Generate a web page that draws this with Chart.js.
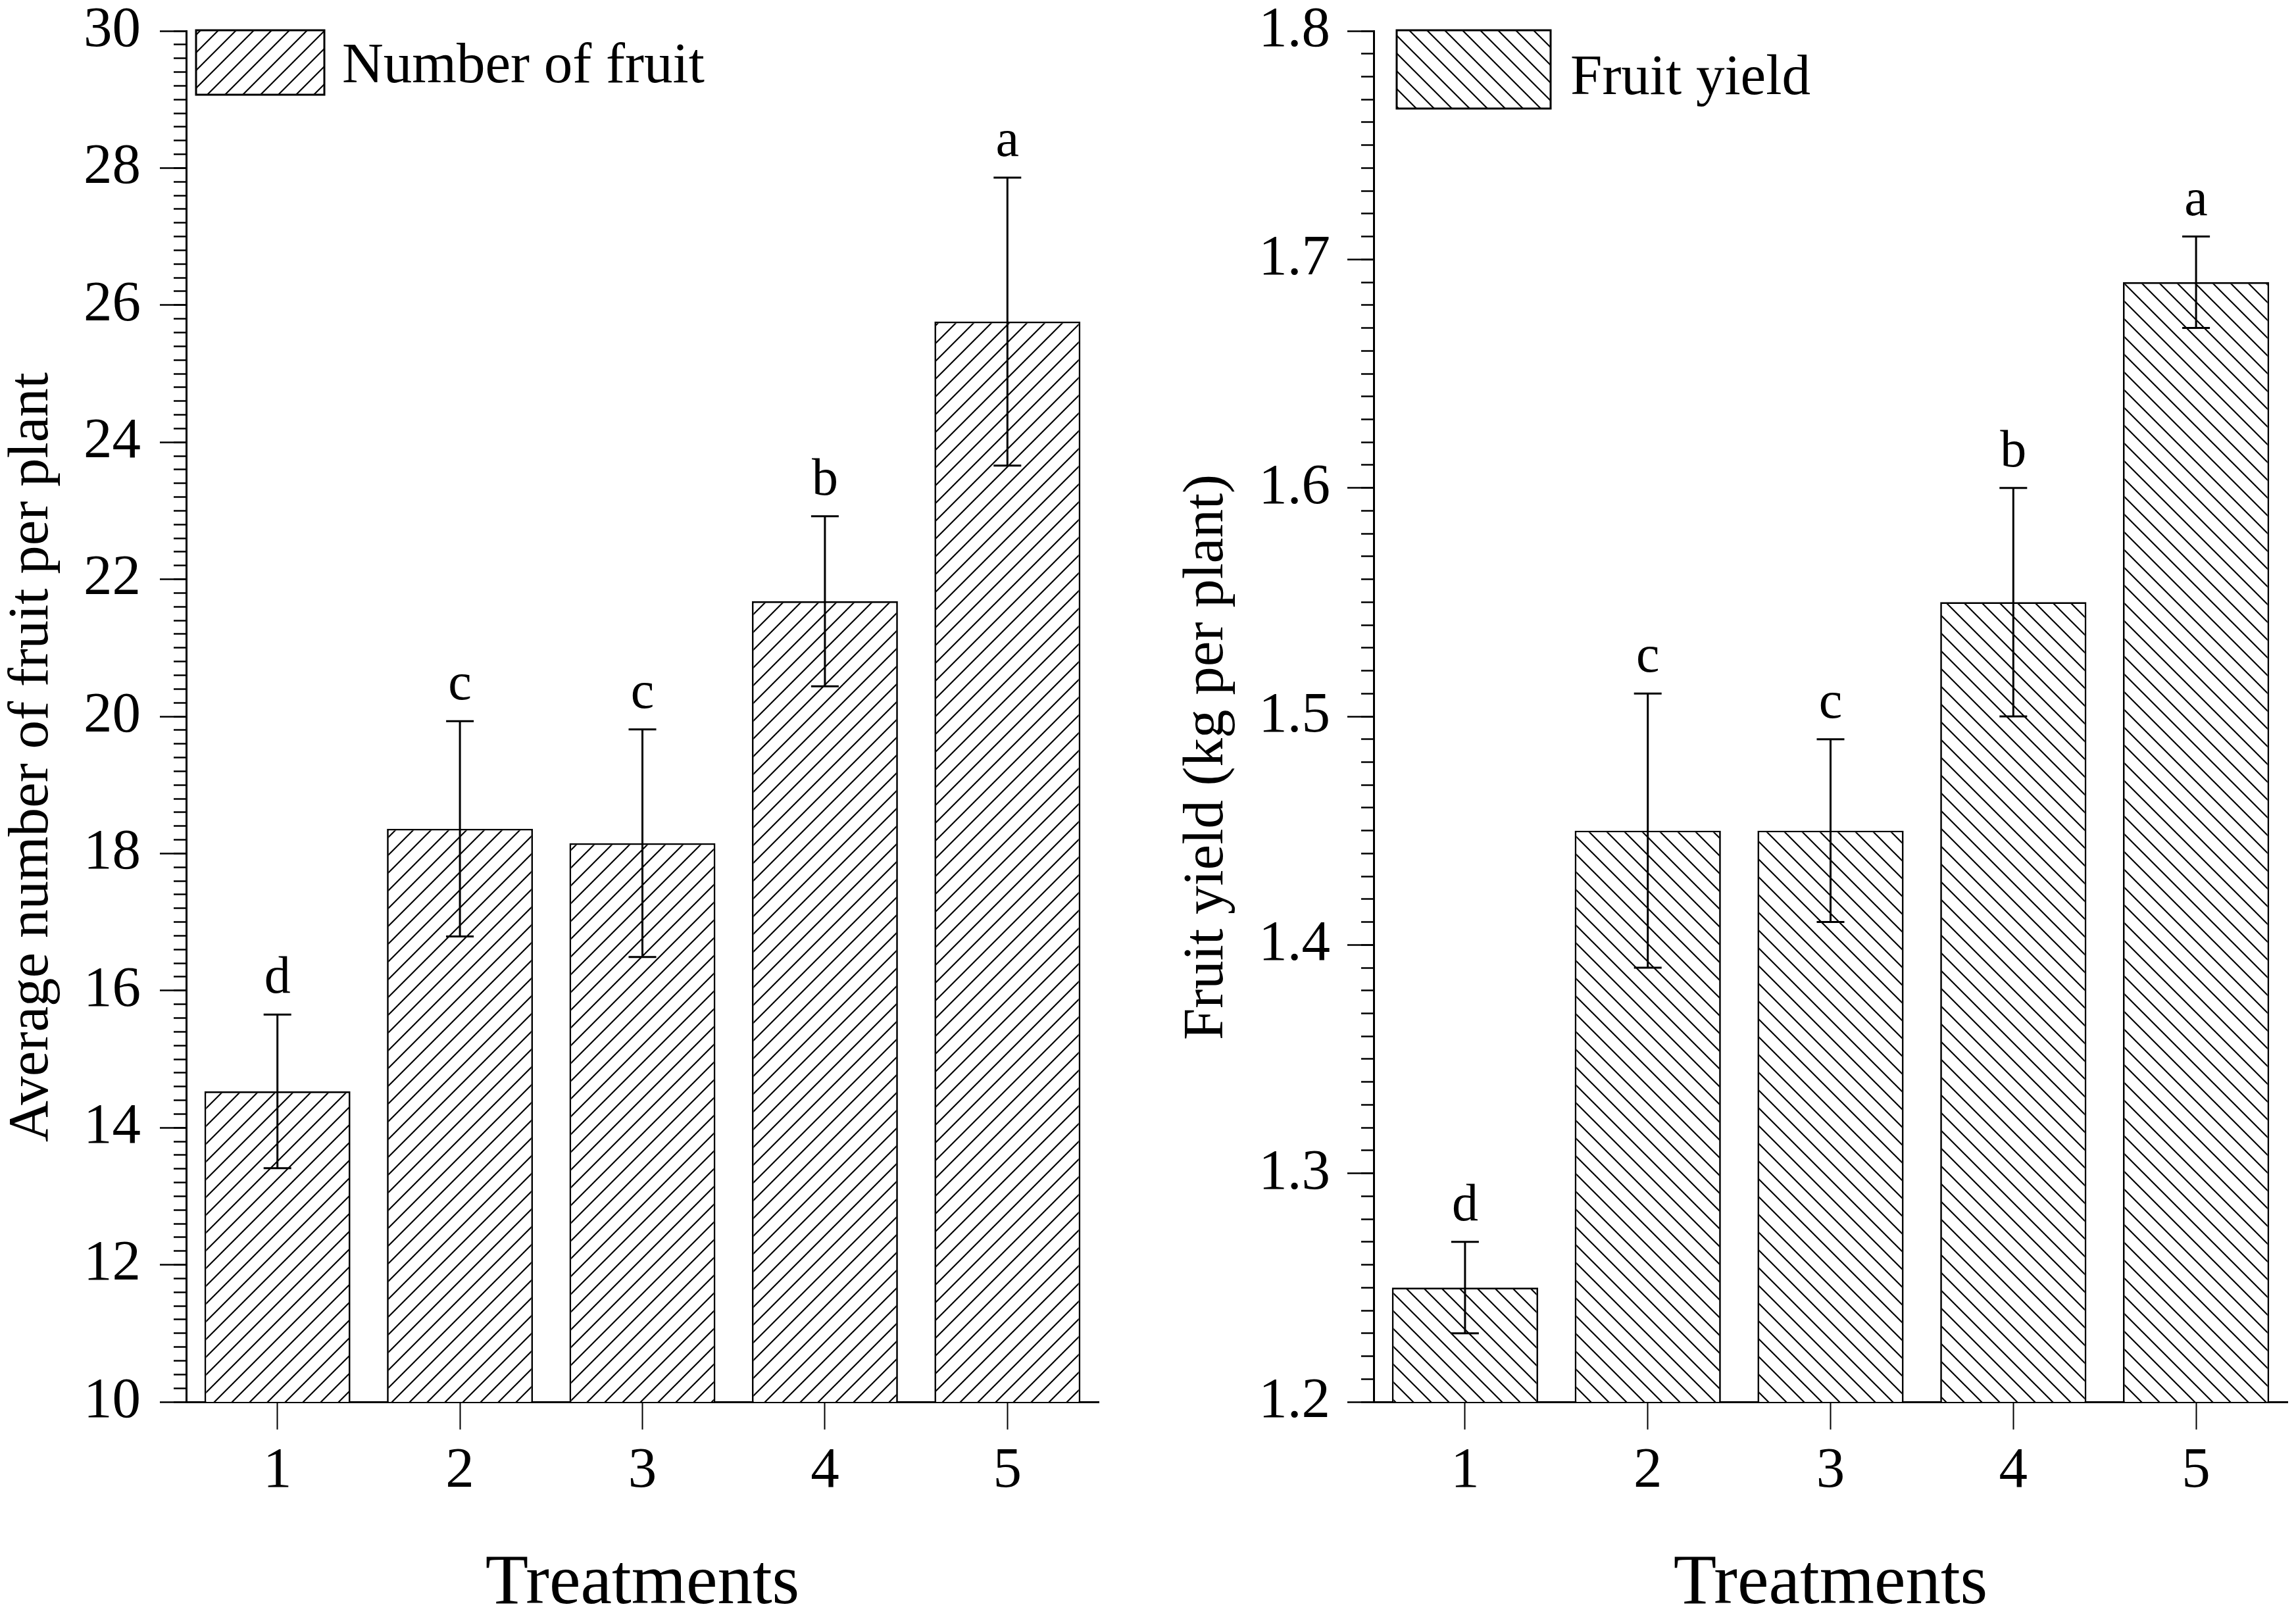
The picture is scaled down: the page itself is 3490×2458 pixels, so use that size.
<!DOCTYPE html>
<html>
<head>
<meta charset="utf-8">
<script src="https://cdn.jsdelivr.net/npm/chart.js@4.4.1/dist/chart.umd.min.js"></script>
<style>
  html, body { margin: 0; padding: 0; background: #fff; }
  #wrap { position: relative; width: 3490px; height: 2458px; }
  canvas { position: absolute; top: 0; }
</style>
</head>
<body>
<div id="wrap">
  <canvas id="fruitChart" width="1745" height="2458" style="left:0px"></canvas>
  <canvas id="yieldChart" width="1745" height="2458" style="left:1745px"></canvas>
</div>
<script>
// data
const treatments = ['1', '2', '3', '4', '5'];

const fruitNumber = [14.53, 18.36, 18.15, 21.68, 25.76];
const fruitNumberErr = [1.12, 1.57, 1.66, 1.24, 2.10];
const fruitLetters = ['d', 'c', 'c', 'b', 'a'];

const fruitYield = [1.25, 1.45, 1.45, 1.55, 1.69];
const fruitYieldErr = [0.02, 0.06, 0.04, 0.05, 0.02];
const yieldLetters = ['d', 'c', 'c', 'b', 'a'];

const FONT = 'Liberation Serif';
Chart.defaults.font.family = FONT;
Chart.defaults.color = '#000';

// diagonal hatch fill, '/' or '\'
function hatch(dir) {
    const s = 27;
    const c = document.createElement('canvas');
    c.width = s; c.height = s;
    const g = c.getContext('2d');
    g.fillStyle = '#fff';
    g.fillRect(0, 0, s, s);
    g.strokeStyle = '#000';
    g.lineWidth = 2.2;
    g.beginPath();
    if (dir === '/') {
        g.moveTo(-2, s + 2); g.lineTo(s + 2, -2);
        g.moveTo(-3, 3); g.lineTo(3, -3);
        g.moveTo(s - 3, s + 3); g.lineTo(s + 3, s - 3);
    } else {
        g.moveTo(-2, -2); g.lineTo(s + 2, s + 2);
        g.moveTo(s - 3, -3); g.lineTo(s + 3, 3);
        g.moveTo(-3, s - 3); g.lineTo(3, s + 3);
    }
    g.stroke();
    return g.createPattern(c, 'repeat');
}

// error bars + significance letters
const errorBars = {
    id: 'errorBars',
    afterDatasetsDraw(chart, args, opts) {
        const { ctx, scales: { x, y } } = chart;
        const values = chart.data.datasets[0].data;
        ctx.save();
        ctx.strokeStyle = '#000';
        ctx.lineWidth = 3;
        ctx.fillStyle = '#000';
        ctx.font = '80px "' + FONT + '"';
        ctx.textAlign = 'center';
        ctx.textBaseline = 'alphabetic';
        values.forEach((v, i) => {
            const cx = x.getPixelForValue(i);
            const top = y.getPixelForValue(v + opts.errors[i]);
            const bot = y.getPixelForValue(v - opts.errors[i]);
            ctx.beginPath();
            ctx.moveTo(cx, top); ctx.lineTo(cx, bot);
            ctx.moveTo(cx - 21, top); ctx.lineTo(cx + 21, top);
            ctx.moveTo(cx - 21, bot); ctx.lineTo(cx + 21, bot);
            ctx.stroke();
            ctx.fillText(opts.letters[i], cx, top - 33);
        });
        ctx.restore();
    }
};

// legend box sitting inside the plot, top-left
const boxLegend = {
    id: 'boxLegend',
    afterDraw(chart, args, opts) {
        const { ctx, chartArea } = chart;
        const ds = chart.data.datasets[0];
        const x0 = chartArea.left + opts.dx;
        ctx.save();
        ctx.fillStyle = ds.backgroundColor;
        ctx.fillRect(x0, opts.y, opts.w, opts.h);
        ctx.strokeStyle = '#000';
        ctx.lineWidth = 3;
        ctx.strokeRect(x0, opts.y, opts.w, opts.h);
        ctx.fillStyle = '#000';
        ctx.font = '87px "' + FONT + '"';
        ctx.textAlign = 'left';
        ctx.textBaseline = 'alphabetic';
        ctx.fillText(ds.label, x0 + opts.w + opts.gap, opts.baseline);
        ctx.restore();
    }
};

// rotated y title
const sideTitle = {
    id: 'sideTitle',
    afterDraw(chart, args, opts) {
        const ctx = chart.ctx;
        ctx.save();
        ctx.translate(opts.x, opts.y);
        ctx.rotate(-Math.PI / 2);
        ctx.fillStyle = '#000';
        ctx.font = '87px "' + FONT + '"';
        ctx.textAlign = 'center';
        ctx.textBaseline = 'alphabetic';
        ctx.fillText(opts.text, 0, 0);
        ctx.restore();
    }
};

const tickText = v => String(Math.round(v * 100) / 100);

function makeChart(id, cfg) {
    return new Chart(document.getElementById(id), {
        type: 'bar',
        data: {
            labels: treatments,
            datasets: [{
                label: cfg.label,
                data: cfg.values,
                backgroundColor: cfg.fill,
                borderColor: '#000',
                borderWidth: 2.7,
                borderSkipped: false,
                barPercentage: 0.8,
                categoryPercentage: 1
            }]
        },
        options: {
            responsive: false,
            animation: false,
            devicePixelRatio: 1,
            events: [],
            layout: { padding: { top: 47, right: cfg.padRight, left: 0, bottom: 0 } },
            plugins: {
                legend: { display: false },
                tooltip: { enabled: false },
                errorBars: { errors: cfg.errors, letters: cfg.letters },
                boxLegend: cfg.legend,
                sideTitle: { text: cfg.yTitle, x: cfg.yTitleX, y: 1151 }
            },
            scales: {
                x: {
                    type: 'category',
                    offset: true,
                    grid: { drawOnChartArea: false, offset: false, tickLength: 42, tickWidth: 2, tickColor: '#000' },
                    border: { color: '#000', width: 3 },
                    ticks: { color: '#000', font: { size: 87 }, padding: 12, maxRotation: 0 },
                    title: { display: true, text: 'Treatments', color: '#000', font: { size: 107, lineHeight: 0.92 }, padding: 0 },
                    afterFit: s => { s.height = 2458 - 2131; s.paddingLeft = 0; s.paddingRight = 0; }
                },
                y: {
                    min: cfg.min, max: cfg.max,
                    position: 'left',
                    weight: 1,
                    grid: { drawOnChartArea: false, tickLength: 40, tickWidth: 2.7, tickColor: '#000' },
                    border: { color: '#000', width: 3 },
                    ticks: { stepSize: cfg.major, color: '#000', font: { size: 87 }, padding: cfg.labelPad, callback: tickText },
                    afterFit: s => { s.width = cfg.axisLeft; s.paddingTop = 0; s.paddingBottom = 0; }
                },
                // minor ticks: second axis glued to the plot edge
                yMinor: {
                    type: 'linear',
                    display: true,
                    weight: 0,
                    min: cfg.min, max: cfg.max,
                    position: 'left',
                    grid: { drawOnChartArea: false, tickLength: 19, tickWidth: 2.5, tickColor: '#000' },
                    border: { display: false },
                    ticks: { stepSize: cfg.minor, display: false },
                    afterFit: s => { s.width = 0; s.paddingTop = 0; s.paddingBottom = 0; }
                }
            }
        },
        plugins: [errorBars, boxLegend, sideTitle]
    });
}

makeChart('fruitChart', {
    label: 'Number of fruit',
    values: fruitNumber,
    errors: fruitNumberErr,
    letters: fruitLetters,
    fill: hatch('/'),
    min: 10, max: 30, major: 2, minor: 0.2,
    axisLeft: 283, padRight: 75, labelPad: 29,
    yTitle: 'Average number of fruit per plant', yTitleX: 72,
    legend: { dx: 15, y: 46, w: 195, h: 98, gap: 27, baseline: 125 }
});

makeChart('yieldChart', {
    label: 'Fruit yield',
    values: fruitYield,
    errors: fruitYieldErr,
    letters: yieldLetters,
    fill: hatch('\\'),
    min: 1.2, max: 1.8, major: 0.1, minor: 0.01,
    axisLeft: 343, padRight: 13, labelPad: 26,
    yTitle: 'Fruit yield (kg per plant)', yTitleX: 113,
    legend: { dx: 35, y: 46, w: 234, h: 119, gap: 30, baseline: 143 }
});
</script>
</body>
</html>
